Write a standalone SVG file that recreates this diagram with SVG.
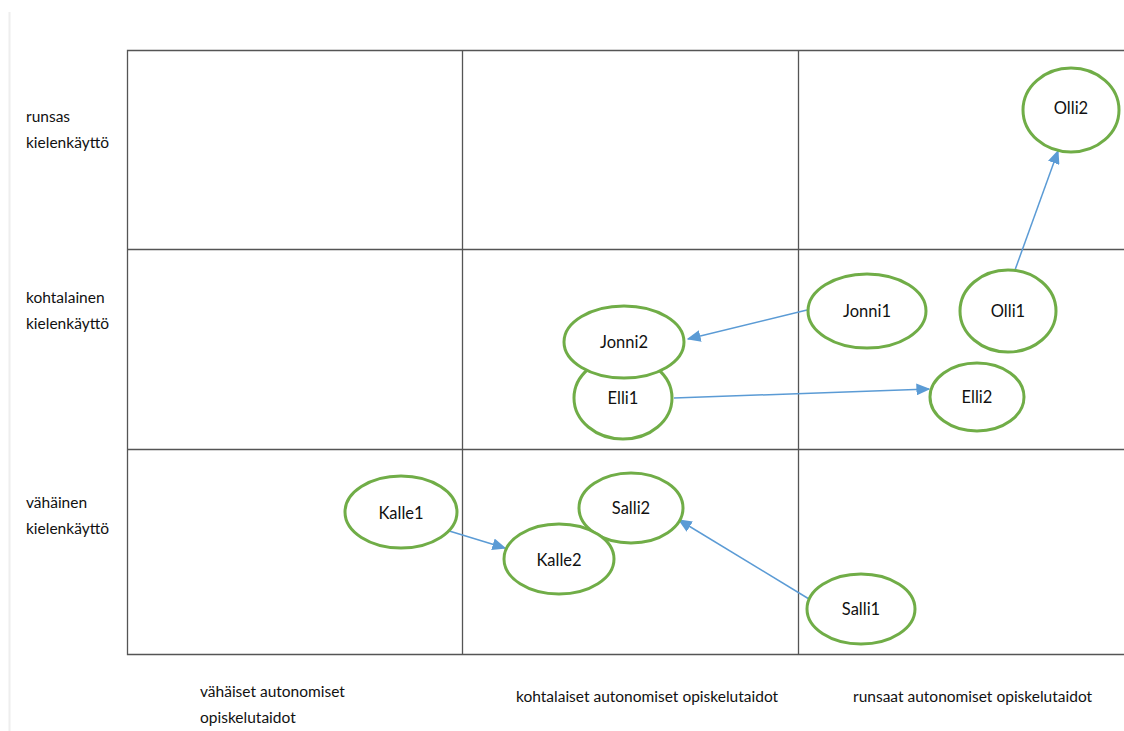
<svg xmlns="http://www.w3.org/2000/svg" width="1124" height="731" viewBox="0 0 1124 731">
  <style>
    text { font-family: Lato, "Liberation Sans", sans-serif; font-size: 15.5px; fill: #111; }
    .node text { text-anchor: middle; dominant-baseline: central; font-size: 16.5px; }
    .node ellipse { fill: #fff; stroke: #70AD47; stroke-width: 3; }
    .grid { stroke: #555; stroke-width: 1.3; fill: none; }
    .edge { stroke: #5B9BD5; stroke-width: 1.5; fill: none; marker-end: url(#arrow); }
  </style>
  <defs>
    <marker id="arrow" viewBox="0 0 10 10" refX="9" refY="5" markerWidth="14" markerHeight="12" markerUnits="userSpaceOnUse" orient="auto" preserveAspectRatio="none">
      <path d="M0,0 L10,5 L0,10 z" fill="#5B9BD5"/>
    </marker>
  </defs>
  <rect width="1124" height="731" fill="#fff"/>
  <line x1="9.5" y1="12" x2="9.5" y2="731" stroke="#eee" stroke-width="2"/>

  <!-- 3x3 grid -->
  <g id="grid" class="grid">
    <path d="M1124,50.5 H127.5 V654.5 H1124"/>
    <line x1="127" y1="249.5" x2="1124" y2="249.5"/>
    <line x1="127" y1="449.5" x2="1124" y2="449.5"/>
    <line x1="462.5" y1="50" x2="462.5" y2="654"/>
    <line x1="798.5" y1="50" x2="798.5" y2="654"/>
  </g>

  <!-- axis labels -->
  <g id="row-labels">
    <text x="26" y="122">runsas</text>
    <text x="26" y="148">kielenkäyttö</text>
    <text x="26" y="303">kohtalainen</text>
    <text x="26" y="329">kielenkäyttö</text>
    <text x="26" y="508">vähäinen</text>
    <text x="26" y="534">kielenkäyttö</text>
  </g>
  <g id="col-labels">
    <text x="200" y="697">vähäiset autonomiset</text>
    <text x="200" y="723">opiskelutaidot</text>
    <text x="516" y="702">kohtalaiset autonomiset opiskelutaidot</text>
    <text x="853" y="702">runsaat autonomiset opiskelutaidot</text>
  </g>

  <g id="connectors">
    <line class="edge" x1="1015" y1="270" x2="1058" y2="151"/>
    <line class="edge" x1="807" y1="310" x2="688" y2="339"/>
    <line class="edge" x1="674" y1="398" x2="929" y2="389"/>
    <line class="edge" x1="446" y1="530" x2="505" y2="548"/>
    <line class="edge" x1="809" y1="599" x2="679" y2="520"/>
  </g>

  <g id="olli2" class="node"><ellipse cx="1071" cy="110" rx="48" ry="42"/><text x="1071" y="108">Olli2</text></g>
  <g id="olli1" class="node"><ellipse cx="1008" cy="311" rx="48" ry="41"/><text x="1008" y="311">Olli1</text></g>
  <g id="jonni1" class="node"><ellipse cx="867" cy="311" rx="59" ry="37"/><text x="867" y="311">Jonni1</text></g>
  <g id="elli1" class="node"><ellipse cx="623" cy="398" rx="49" ry="41"/><text x="623" y="398">Elli1</text></g>
  <g id="jonni2" class="node"><ellipse cx="624" cy="342" rx="60" ry="36"/><text x="624" y="342">Jonni2</text></g>
  <g id="elli2" class="node"><ellipse cx="977" cy="397" rx="47" ry="34"/><text x="977" y="397">Elli2</text></g>
  <g id="kalle1" class="node"><ellipse cx="401" cy="512" rx="56" ry="36"/><text x="401" y="513">Kalle1</text></g>
  <g id="salli2" class="node"><ellipse cx="631" cy="508" rx="52" ry="35"/><text x="631" y="508">Salli2</text></g>
  <g id="kalle2" class="node"><ellipse cx="559" cy="559" rx="55" ry="35"/><text x="559" y="560">Kalle2</text></g>
  <g id="salli1" class="node"><ellipse cx="861" cy="609" rx="54" ry="35"/><text x="861" y="609">Salli1</text></g>
</svg>
